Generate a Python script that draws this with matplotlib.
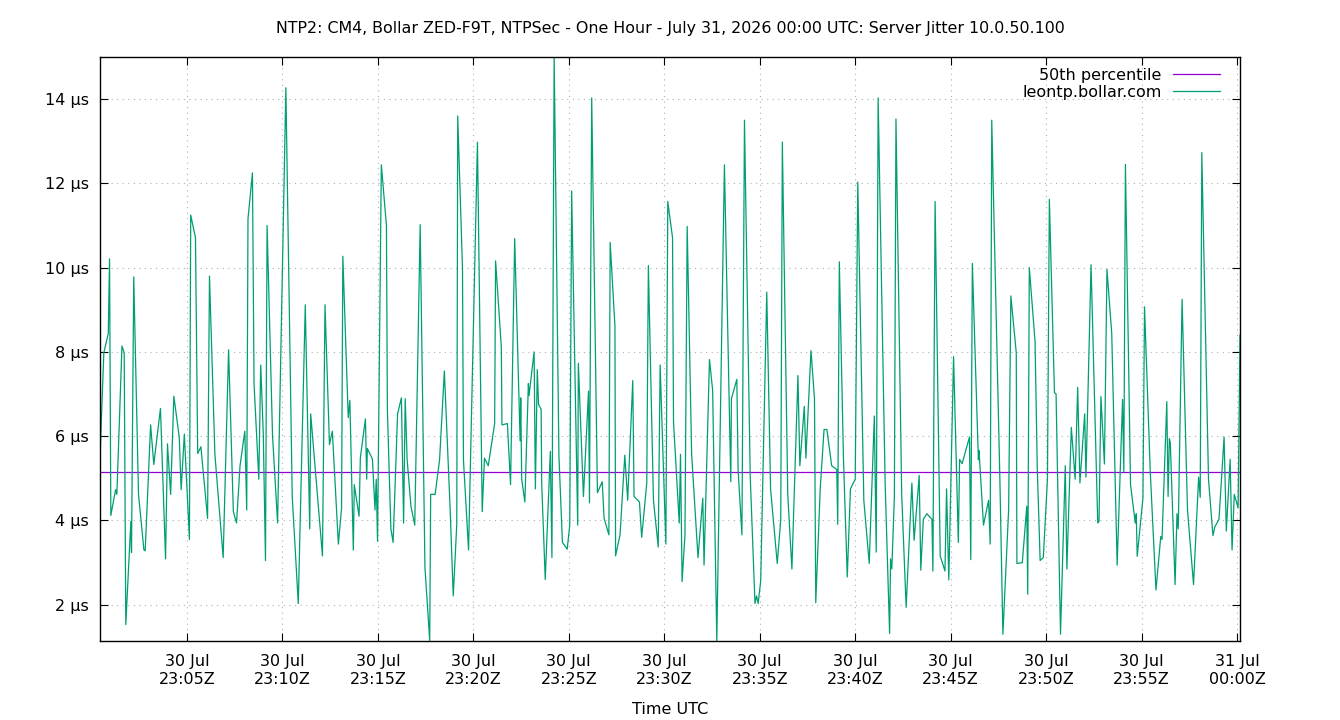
from datetime import datetime, timedelta
import matplotlib
matplotlib.use('Agg')
import matplotlib.pyplot as plt
import matplotlib.dates as mdates
from matplotlib.ticker import FuncFormatter, MultipleLocator

title = 'NTP2: CM4, Bollar ZED-F9T, NTPSec - One Hour - July 31, 2026 00:00 UTC: Server Jitter 10.0.50.100'
start = datetime(2026, 7, 30, 23, 0, 0)

# seconds after 23:00:00 UTC
t_sec = [
    27, 39, 53, 57, 61, 76, 80, 96, 103, 108, 124, 126, 133, 148, 165, 169, 186, 196, 217, 233,
    239, 249, 259, 276, 282, 292, 308, 312, 327, 334, 344, 365, 371,
    388, 414, 431, 446, 456, 467, 482, 488, 492, 506, 511, 526, 532, 540, 547, 552, 569, 585,
    611, 631, 650, 672, 686, 689, 726, 734,
    748, 757, 776, 786, 790, 807, 812, 823, 826, 841, 845, 861, 865, 867, 883, 891, 895, 899,
    911, 927, 930, 941, 948, 962, 974, 981, 986, 992, 1004, 1016, 1033, 1048, 1063, 1066, 1080,
    1094, 1109,
    1127, 1137, 1148, 1151, 1166, 1169, 1185, 1213, 1228, 1235, 1247, 1267, 1270, 1288, 1290,
    1307, 1317, 1330, 1347, 1349, 1352, 1362, 1373, 1375, 1391, 1395, 1401, 1405, 1413, 1415,
    1426, 1442, 1447, 1454,
    1469, 1480, 1495, 1503, 1509, 1528, 1530, 1546, 1562, 1565, 1572, 1590, 1605, 1611, 1626,
    1630, 1645, 1647, 1661, 1676, 1685, 1701, 1705, 1722, 1729, 1745, 1750, 1766, 1781, 1787,
    1805, 1811,
    1826, 1829, 1847, 1851, 1856, 1865, 1872, 1886, 1906, 1921, 1925, 1942, 1952, 1965, 1989,
    2009, 2011, 2028, 2032, 2044, 2052, 2070, 2085, 2090, 2095, 2103, 2122, 2134, 2155, 2166, 2171,
    2188, 2201, 2220, 2226, 2240, 2245, 2261, 2272, 2276, 2290, 2302, 2311, 2326, 2342, 2345,
    2350, 2363, 2375, 2385, 2400, 2408, 2427, 2444, 2460, 2466, 2472, 2494, 2508, 2511, 2515,
    2523, 2528,
    2546, 2560, 2578, 2585, 2601, 2606, 2614, 2625, 2641, 2644, 2651, 2667, 2682, 2687, 2694,
    2709, 2724, 2728, 2736, 2759, 2763, 2768, 2787, 2789, 2803, 2819, 2824, 2829, 2855, 2864,
    2882, 2889, 2906, 2908,
    2925, 2939, 2942, 2947, 2965, 2972, 2981, 2991, 3004, 3010, 3026, 3031, 3045, 3060, 3065,
    3079, 3091, 3099, 3106, 3121, 3125, 3141, 3162, 3166, 3172, 3183, 3191, 3206, 3223, 3240,
    3244, 3249, 3265,
    3280, 3283, 3286, 3304, 3309, 3327, 3345, 3360, 3364, 3379, 3383, 3387, 3390, 3405, 3411,
    3415, 3427, 3444, 3463, 3479, 3484, 3489, 3510, 3524, 3530, 3543, 3559, 3566, 3578, 3584,
    3591, 3603, 3609,
]

# server jitter, microseconds
jitter_us = [
    5.48, 7.98, 8.44, 10.21, 4.12, 4.73, 4.62, 8.14, 7.98, 1.53, 3.98, 3.24, 9.78, 4.62, 3.30, 3.28, 6.27, 5.33, 6.66, 3.09,
    5.82, 4.62, 6.95, 5.98, 4.73, 6.05, 3.55, 11.25, 10.71, 5.59, 5.75, 4.05, 9.80,
    5.57, 3.12, 8.05, 4.21, 3.94, 5.30, 6.12, 4.25, 11.16, 12.25, 7.25, 4.98, 7.69, 6.07, 3.05, 11.00, 6.03, 3.94,
    14.27, 4.57, 2.03, 9.12, 3.80, 6.53, 3.16, 9.12,
    5.80, 6.12, 3.44, 4.30, 10.27, 6.44, 6.85, 3.30, 4.85, 4.10, 5.48, 6.41, 4.98, 5.71, 5.46, 4.25, 4.98, 3.51,
    12.44, 11.00, 6.62, 3.80, 3.48, 6.53, 6.91, 3.94, 6.89, 5.45, 4.34, 3.89, 11.02, 2.89, 1.15, 4.62, 4.62,
    5.44, 7.55,
    4.30, 2.21, 3.91, 13.60, 9.98, 5.44, 3.30, 12.98, 4.21, 5.48, 5.30, 6.30, 10.16, 8.12, 6.27,
    6.30, 4.85, 10.69, 5.89, 6.91, 4.98, 4.44, 7.25, 6.96, 8.00, 4.75, 7.58, 6.75, 6.64, 4.86,
    2.60, 5.64, 3.12, 15.00,
    5.53, 3.48, 3.32, 3.89, 11.82, 3.89, 7.73, 4.57, 7.07, 4.42, 14.03, 4.66, 4.92, 4.05, 3.66,
    10.60, 8.62, 3.16, 3.66, 5.55, 4.48, 7.32, 4.57, 4.44, 3.60, 4.89, 10.05, 4.48, 3.37, 7.69,
    3.44, 11.57,
    10.71, 6.35, 3.94, 5.57, 2.55, 3.66, 10.98, 5.57, 3.12, 4.53, 2.94, 7.82, 7.09, 1.14, 12.44,
    4.92, 6.89, 7.35, 5.20, 3.66, 13.50, 5.07, 2.03, 2.21, 2.03, 2.57, 9.42, 4.75, 2.98, 4.03, 12.98,
    4.62, 2.85, 7.44, 5.30, 6.71, 5.48, 8.03, 6.89, 2.05, 4.75, 6.16, 6.16, 5.30, 5.21, 3.91,
    10.14, 5.48, 2.66, 4.75, 4.98, 12.03, 4.48, 2.98, 6.48, 3.25, 14.03, 4.89, 1.32, 3.09, 2.85,
    4.57, 13.53,
    4.62, 1.94, 4.89, 3.53, 5.07, 2.82, 4.03, 4.16, 4.03, 2.80, 11.57, 3.16, 2.80, 4.75, 2.59,
    7.89, 3.48, 5.45, 5.35, 5.98, 3.07, 10.10, 5.44, 5.66, 3.89, 4.48, 3.44, 13.50, 4.80, 1.30,
    4.25, 9.33, 7.98, 2.98,
    3.00, 4.34, 2.25, 10.00, 8.25, 5.25, 3.05, 3.12, 4.98, 11.62, 7.03, 7.01, 1.30, 5.30, 2.85,
    6.21, 4.98, 7.16, 4.89, 6.53, 5.03, 10.07, 3.94, 3.98, 6.94, 5.34, 9.96, 8.44, 2.94, 6.87,
    5.16, 12.45, 4.85,
    3.94, 4.16, 3.15, 4.53, 9.07, 5.16, 2.35, 3.62, 3.55, 6.82, 4.57, 5.94, 5.85, 2.48, 4.16,
    3.80, 9.25, 4.25, 2.48, 5.03, 4.55, 12.73, 4.98, 3.64, 3.85, 4.03, 5.98, 3.75, 5.45, 3.30,
    4.62, 4.30, 8.40,
]

p50_us = 5.16
server_label = 'leontp.bollar.com'
p50_label = '50th percentile'

assert len(t_sec) == len(jitter_us)

times = [start + timedelta(seconds=s) for s in t_sec]

plt.rcParams['font.family'] = ['DejaVu Sans']
plt.rcParams['font.size'] = 11.5

fig = plt.figure(figsize=(13.4, 7.2), dpi=100)
ax = fig.add_axes([100 / 1340, 1 - 641 / 720, 1140 / 1340, 584 / 720])

ax.plot([times[0], times[-1]], [p50_us, p50_us], color='#9400d3', lw=0.9, label=p50_label)
ax.plot(times, jitter_us, color='#009e73', lw=0.9, label=server_label)

ax.set_xlim(times[0], times[-1])
ax.set_ylim(min(jitter_us), max(jitter_us))

ax.yaxis.set_major_locator(MultipleLocator(2))
ax.yaxis.set_major_formatter(FuncFormatter(lambda v, p: f'{v:.0f} µs'))
ax.xaxis.set_major_locator(mdates.MinuteLocator(byminute=range(0, 60, 5)))
ax.xaxis.set_major_formatter(mdates.DateFormatter('%d %b\n%H:%MZ'))

ax.tick_params(direction='in', length=6, width=0.8, top=True, right=True)
ax.tick_params(axis='x', pad=9.5)
ax.tick_params(axis='y', pad=8)
for lbl in ax.get_xticklabels():
    lbl.set_linespacing(1.25)
ax.grid(True, color='#b0b0b0', linestyle=(0, (1, 4)), lw=0.8)
for sp in ax.spines.values():
    sp.set_linewidth(1.0)

ax.set_xlabel('Time UTC', labelpad=11)
fig.text(0.5, 1 - 28 / 720, title, ha='center', va='center', fontsize=11.4)

leg = ax.legend(loc='upper right', bbox_to_anchor=(0.9825, 0.982), frameon=False,
                markerfirst=False, handlelength=2.95, handletextpad=0.7,
                labelspacing=0.15, borderaxespad=0, borderpad=0)
for txt in leg.get_texts():
    txt.set_ha('right')

fig.savefig('out.png', dpi=100)
